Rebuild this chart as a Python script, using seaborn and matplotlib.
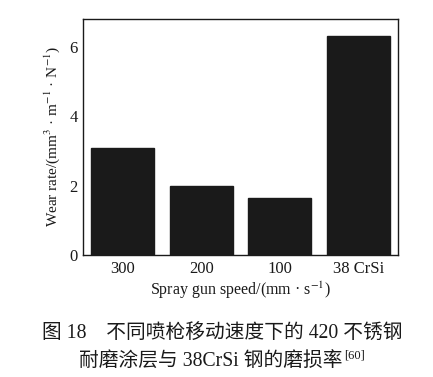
import matplotlib
matplotlib.use("Agg")
import matplotlib.pyplot as plt
import seaborn as sns
import pandas as pd

categories = ["300", "200", "100", "38 CrSi"]
wear_rate = [3.07, 2.0, 1.63, 6.3]

sns.set_theme(style="white")
plt.rcParams['font.family'] = ['Liberation Serif', 'DejaVu Serif']
plt.rcParams['mathtext.fontset'] = 'stix'

df = pd.DataFrame({"speed": categories, "rate": wear_rate})

fig = plt.figure(figsize=(4.33, 3.77), dpi=100)
ax = fig.add_axes([0.192, 0.3236, 0.727, 0.626])
sns.barplot(data=df, x="speed", y="rate", color="#1a1a1a", saturation=1,
            width=0.8, ax=ax, edgecolor="#1a1a1a")
ax.set_ylim(0, 6.8)
ax.set_xlim(-0.5, 3.5)
ax.set_yticks([0, 2, 4, 6])
ax.tick_params(axis='both', length=0, labelsize=12, colors='#1a1a1a', pad=4)
ax.set_ylabel("Wear rate/(mm$^{3}$ · m$^{-1}$ · N$^{-1}$)", fontsize=11, color='#1a1a1a', labelpad=5)
ax.set_xlabel("Spray gun speed/(mm · s$^{-1}$)", fontsize=11.5, color='#1a1a1a', labelpad=2)
for s in ax.spines.values():
    s.set_visible(True)
    s.set_color('#1a1a1a')
    s.set_linewidth(1.0)

cap = ['Liberation Serif', 'Noto Sans CJK SC', 'DejaVu Sans']
fig.text(0.513, 1 - 333/377, "图 18\u3000不同喷枪移动速度下的 420 不锈钢", ha='center', va='center',
         fontsize=14.2, family=cap, color='#1a1a1a')
t2 = fig.text(0.183, 1 - 362/377, "耐磨涂层与 38CrSi 钢的磨损率", ha='left', va='center',
              fontsize=14.2, family=cap, color='#1a1a1a')
fig.canvas.draw()
bb = t2.get_window_extent(renderer=fig.canvas.get_renderer())
x_end = bb.x1 / fig.bbox.width
fig.text(x_end + 0.003, 1 - 355/377, "[60]", ha='left', va='center',
         fontsize=9, family=cap, color='#1a1a1a')

fig.savefig("out.png", dpi=100)
